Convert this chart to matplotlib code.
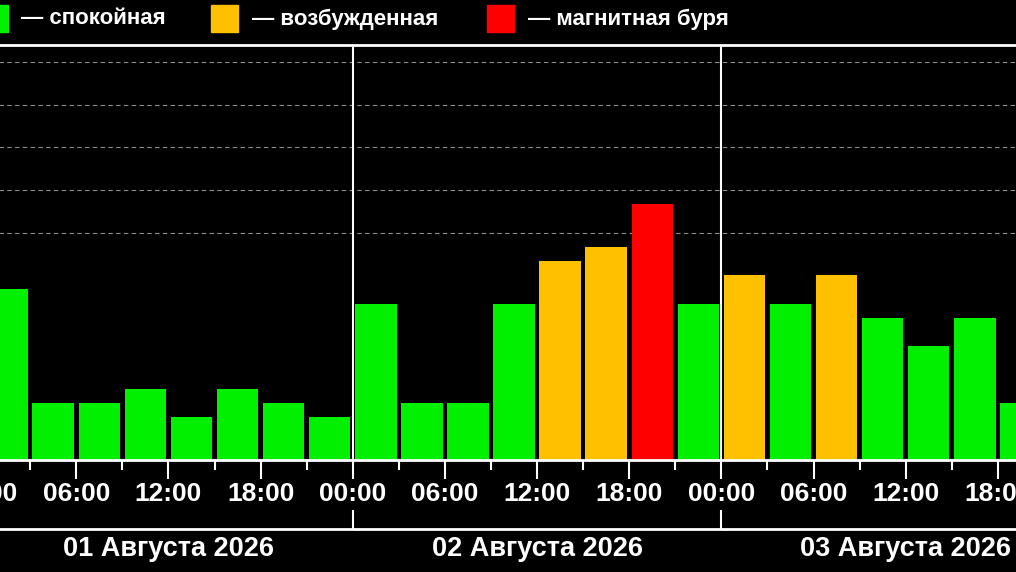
import matplotlib.pyplot as plt
import numpy as np
from matplotlib.patches import Rectangle
from matplotlib.ticker import MultipleLocator, FixedLocator, FuncFormatter

plt.rcParams['font.family'] = ['Liberation Sans', 'DejaVu Sans']
plt.rcParams['font.weight'] = 'bold'

# Kp index, 3-hour intervals starting at 00:00 of each day
day_labels = ["01 Августа 2026", "02 Августа 2026", "03 Августа 2026"]
kp_day1 = [3.67, 1.0, 1.0, 1.33, 0.67, 1.33, 1.0, 0.67]
kp_day2 = [3.33, 1.0, 1.0, 3.33, 4.33, 4.67, 5.67, 3.33]
kp_day3 = [4.0, 3.33, 4.0, 3.0, 2.33, 3.0, 1.0]

legend_labels = ["— спокойная", "— возбужденная", "— магнитная буря"]
GREEN, ORANGE, RED = "#00f000", "#ffc000", "#ff0000"
legend_colors = [GREEN, ORANGE, RED]

kp = np.array(kp_day1 + kp_day2 + kp_day3)
slot_start = np.arange(len(kp)) * 3  # hours since 01.08 00:00
bar_colors = [RED if v >= 5 else ORANGE if v >= 4 else GREEN for v in kp]

W, H = 1016, 572
fig = plt.figure(figsize=(W / 100, H / 100), dpi=100, facecolor="black")

# the plot is wider than the picture (cropped on both sides)
hour_px = 15.36
ax_left = -15.9 / W
ax_w = 72 * hour_px / W
ax = fig.add_axes([ax_left, (H - 460) / H, ax_w, (460 - 45) / H])
ax.set_facecolor("black")

y0 = -1 / 3
ax.bar(slot_start + 1.5, kp - y0, bottom=y0, width=2.7, color=bar_colors, zorder=3)
ax.set_xlim(0, 72)
ax.set_ylim(y0, 9.4)

for k in range(5, 10):
    ax.axhline(k, color="#8c8c8c", lw=0.8, ls=(0, (4, 3)), zorder=1)
for d in (24, 48):
    ax.axvline(d, color="white", lw=1.5, zorder=4)

for side in ("left", "right"):
    ax.spines[side].set_visible(False)
for side in ("top", "bottom"):
    ax.spines[side].set_color("white")
    ax.spines[side].set_linewidth(2)
    ax.spines[side].set_zorder(5)

ax.set_yticks([])
ax.xaxis.set_major_locator(MultipleLocator(6))
ax.xaxis.set_minor_locator(MultipleLocator(3))
ax.xaxis.set_major_formatter(FuncFormatter(lambda x, _: f"{int(x) % 24:02d}:00"))
ax.tick_params(axis="x", which="major", length=14, width=1.5, color="white",
               labelcolor="white", labelsize=19, pad=2)
ax.tick_params(axis="x", which="minor", length=7, width=1.5, color="white")

# date axis below
ax2 = fig.add_axes([ax_left, (H - 529) / H, ax_w, 1e-4])
ax2.set_facecolor("none")
ax2.set_xlim(0, 72)
ax2.set_yticks([])
for side in ("left", "right", "top"):
    ax2.spines[side].set_visible(False)
ax2.spines["bottom"].set_color("white")
ax2.spines["bottom"].set_linewidth(2)
ax2.xaxis.set_major_locator(FixedLocator([0, 24, 48, 72]))
ax2.xaxis.set_minor_locator(FixedLocator([12, 36, 60]))
ax2.xaxis.set_minor_formatter(FuncFormatter(lambda x, pos: day_labels[pos]))
ax2.tick_params(axis="x", which="major", direction="in", length=14, width=1.5,
                color="white", labelbottom=False)
ax2.tick_params(axis="x", which="minor", length=0, labelcolor="white",
                labelsize=19.5, pad=5)

# legend across the top
sq_x = [-19, 211, 487]
txt_x = [21, 252, 528]
for lbl, col, sx, tx in zip(legend_labels, legend_colors, sq_x, txt_x):
    fig.patches.append(Rectangle((sx / W, 1 - 32 / H), 27 / W, 27 / H,
                                 transform=fig.transFigure, color=col))
    fig.text(tx / W, 1 - 19 / H, lbl, color="white", fontsize=16,
             va="center", ha="left")

fig.savefig("out.png", dpi=100, facecolor="black")
